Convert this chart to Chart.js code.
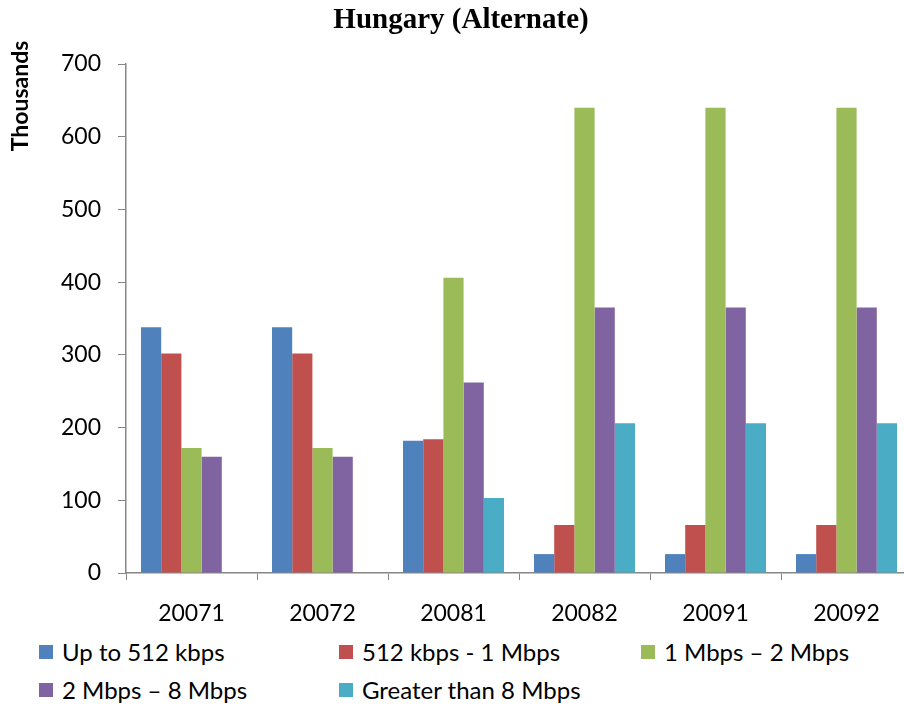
<!DOCTYPE html>
<html>
<head>
<meta charset="utf-8">
<script src="https://cdn.jsdelivr.net/npm/chart.js@4"></script>
<style>
  html, body { margin: 0; padding: 0; background: #fff; overflow: hidden; }
  #wrap { position: relative; width: 904px; height: 706px; overflow: hidden; }
  #box { position: absolute; left: 0; top: 0; width: 920px; height: 630px; }
  .leg { position: absolute; font-family: Lato, sans-serif; font-size: 24px; line-height: 24px; color: #000; white-space: nowrap; padding-left: 23px; }
  .leg span { position: absolute; left: 0; top: 5px; width: 14px; height: 14px; }
</style>
</head>
<body>
<div id="wrap">
  <div id="box"><canvas id="myChart"></canvas></div>
  <div id="legend"></div>
</div>
<script>
const periodos = ['20071', '20072', '20081', '20082', '20091', '20092']
const series = ['Up to 512 kbps', '512 kbps - 1 Mbps', '1 Mbps \u2013 2 Mbps', '2 Mbps \u2013 8 Mbps', 'Greater than 8 Mbps']
const hasta512 = [338, 338, 182, 26, 26, 26]
const de512a1 = [302, 302, 184, 66, 66, 66]
const de1a2 = [172, 172, 406, 640, 640, 640]
const de2a8 = [160, 160, 262, 365, 365, 365]
const masDe8 = [0, 0, 103, 206, 206, 206]
const yTicks = [0, 100, 200, 300, 400, 500, 600, 700]
const colores = ['#4F81BD', '#C0504D', '#9BBB59', '#8064A2', '#4BACC6']

const valores = [hasta512, de512a1, de1a2, de2a8, masDe8]

// leyenda en html, tres columnas
const legPos = [[39, 640], [339, 640], [641, 640], [39, 678], [339, 678]]
const legend = document.getElementById('legend')
series.forEach((s, i) => {
    const d = document.createElement('div')
    d.className = 'leg'
    d.style.left = legPos[i][0] + 'px'
    d.style.top = legPos[i][1] + 'px'
    d.innerHTML = '<span style="background:' + colores[i] + '"></span>' + s
    legend.appendChild(d)
})

const textos = {
    id: 'textos',
    afterDraw(chart) {
        const c = chart.ctx
        c.save()
        c.fillStyle = '#000'
        c.textAlign = 'center'
        c.textBaseline = 'middle'
        c.font = 'bold 29px "Liberation Serif"'
        c.fillText('Hungary (Alternate)', 461, 21)
        c.translate(21, 96)
        c.rotate(-Math.PI / 2)
        c.font = 'bold 23px Lato'
        c.fillText('Thousands', 0, 0)
        c.restore()
    }
}

const ctx = document.getElementById('myChart')
const myChart = new Chart(ctx, {
    type: 'bar',
    data: {
        labels: periodos,
        datasets: series.map((s, i) => ({
            label: s,
            data: valores[i],
            backgroundColor: colores[i],
            barPercentage: 1,
            categoryPercentage: 0.771
        }))
    },
    options: {
        responsive: true,
        maintainAspectRatio: false,
        animation: false,
        layout: { padding: { top: 64, right: 8, left: 0, bottom: 0 } },
        plugins: {
            legend: { display: false },
            title: { display: false },
            tooltip: { enabled: false }
        },
        scales: {
            x: {
                grid: { display: true, drawOnChartArea: false, drawTicks: true, tickLength: 7, color: '#868686' },
                border: { color: '#868686', width: 1.5 },
                ticks: { color: '#000', font: { family: 'Lato', size: 23 }, padding: 20, maxRotation: 0 },
                afterFit(scale) { scale.height = 57 }
            },
            y: {
                min: 0,
                max: 700,
                afterBuildTicks(scale) { scale.ticks = yTicks.map(v => ({ value: v })) },
                grid: { display: true, drawOnChartArea: false, drawTicks: true, tickLength: 8, color: '#868686' },
                border: { color: '#868686', width: 1.5 },
                ticks: { color: '#000', font: { family: 'Lato', size: 23 }, padding: 17 },
                afterFit(scale) { scale.width = 126 }
            }
        }
    },
    plugins: [textos]
})
</script>
</body>
</html>
